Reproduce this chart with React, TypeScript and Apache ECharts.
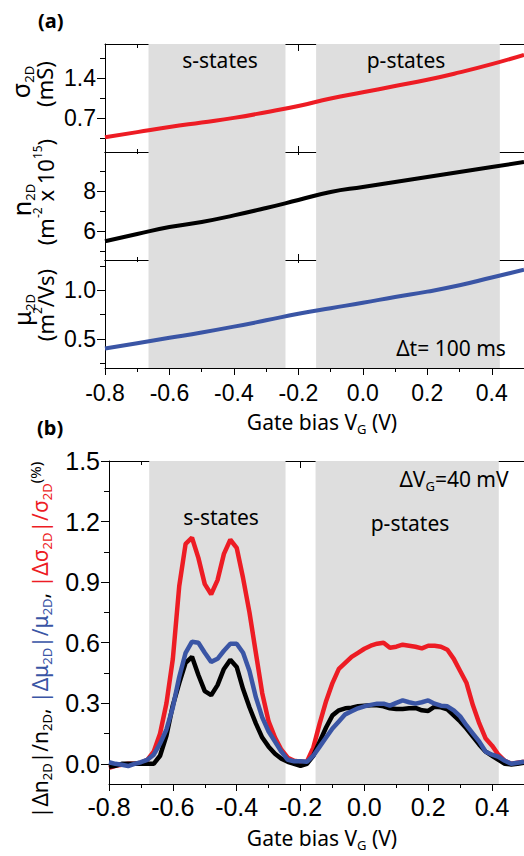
import React, { useEffect, useRef } from 'react';
import * as echarts from 'echarts';

// ---------- data ----------
const X_MAJOR = [-0.8, -0.6, -0.4, -0.2, 0.0, 0.2, 0.4];
const X_MINOR = [-0.7, -0.5, -0.3, -0.1, 0.1, 0.3];

// shaded state regions (gate bias, V)
const S_STATES_A = [-0.665, -0.24];
const P_STATES_A = [-0.145, 0.425];
const S_STATES_B = [-0.674, -0.247];
const P_STATES_B = [-0.153, 0.421];

// panel (a)
const vgA = [-0.8, -0.7, -0.6, -0.5, -0.4, -0.3, -0.2, -0.1, 0.0, 0.1, 0.2, 0.3, 0.4, 0.5];
const sigma2D = [0.36, 0.45, 0.54, 0.62, 0.7, 0.8, 0.91, 1.04, 1.15, 1.26, 1.37, 1.5, 1.645, 1.81];
const n2D = [5.49, 5.85, 6.2, 6.45, 6.78, 7.15, 7.55, 7.95, 8.2, 8.45, 8.7, 8.95, 9.2, 9.45];
const mu2D = [0.4, 0.455, 0.51, 0.565, 0.625, 0.69, 0.757, 0.815, 0.87, 0.93, 0.985, 1.05, 1.13, 1.21];

// panel (b)
const vgB = [
  -0.8, -0.78, -0.76, -0.74, -0.72, -0.7, -0.68, -0.66, -0.64, -0.62, -0.6, -0.58, -0.56, -0.54, -0.52,
  -0.5, -0.48, -0.46, -0.44, -0.42, -0.4, -0.38, -0.36, -0.34, -0.32, -0.3, -0.28, -0.26, -0.24, -0.22,
  -0.2, -0.18, -0.16, -0.14, -0.12, -0.1, -0.08, -0.06, -0.04, -0.02, 0.0, 0.02, 0.04, 0.06, 0.08,
  0.1, 0.12, 0.14, 0.16, 0.18, 0.2, 0.22, 0.24, 0.26, 0.28, 0.3, 0.32, 0.34, 0.36, 0.38,
  0.4, 0.42, 0.44, 0.46, 0.48, 0.5,
];
const dSigma = [
  -0.02, -0.01, -0.005, 0.0, 0.0, 0.005, 0.02, 0.06, 0.15, 0.3, 0.52, 0.88, 1.09, 1.12, 1.02,
  0.89, 0.84, 0.91, 1.04, 1.11, 1.07, 0.92, 0.75, 0.55, 0.35, 0.21, 0.13, 0.07, 0.03, 0.015,
  0.01, 0.01, 0.08, 0.2, 0.31, 0.4, 0.47, 0.5, 0.53, 0.55, 0.57, 0.585, 0.595, 0.6, 0.575,
  0.58, 0.59, 0.585, 0.58, 0.572, 0.585, 0.585, 0.58, 0.565, 0.52, 0.46, 0.4, 0.29, 0.2, 0.125,
  0.09, 0.045, 0.015, 0.0, 0.005, 0.01,
];
const dN = [
  -0.015, -0.01, 0.0, 0.0, 0.0, 0.0, 0.0, 0.0, 0.04, 0.14, 0.29, 0.4, 0.5, 0.53, 0.44,
  0.36, 0.34, 0.39, 0.47, 0.515, 0.48, 0.37, 0.28, 0.2, 0.13, 0.085, 0.05, 0.025, 0.01, 0.0,
  -0.01, 0.0, 0.04, 0.11, 0.18, 0.24, 0.265, 0.275, 0.278, 0.285, 0.288, 0.29, 0.29, 0.285, 0.275,
  0.272, 0.272, 0.275, 0.277, 0.265, 0.262, 0.283, 0.28, 0.27, 0.24, 0.21, 0.175, 0.135, 0.095, 0.06,
  0.04, 0.02, 0.0, -0.003, 0.0, 0.005,
];
const dMu = [
  0.008, 0.0, -0.005, -0.011, 0.0, 0.008, 0.02, 0.045, 0.1, 0.17, 0.28, 0.43, 0.55, 0.605, 0.6,
  0.55, 0.505, 0.52, 0.56, 0.595, 0.595, 0.55, 0.46, 0.33, 0.23, 0.16, 0.11, 0.06, 0.02, 0.013,
  0.013, 0.01, 0.04, 0.085, 0.13, 0.175, 0.21, 0.245, 0.26, 0.275, 0.285, 0.292, 0.298, 0.298, 0.288,
  0.302, 0.314, 0.305, 0.298, 0.305, 0.314, 0.298, 0.288, 0.285, 0.265, 0.235, 0.19, 0.15, 0.11, 0.06,
  0.045, 0.035, 0.015, 0.0, 0.005, 0.01,
];

const Y1_MAJOR = [0.7, 1.4];
const Y1_MINOR = [0.35, 1.05, 1.75];
const Y2_MAJOR = [6, 8];
const Y2_MINOR = [5, 7, 9];
const Y3_MAJOR = [0.5, 1.0];
const Y3_MINOR = [0.25, 0.75, 1.25];
const Y4_MAJOR = [0.0, 0.3, 0.6, 0.9, 1.2, 1.5];
const Y4_MINOR = [0.15, 0.45, 0.75, 1.05, 1.35];

// ---------- styles ----------
const RED = '#ed1c24';
const BLUE = '#3a55a5';
const BLACK = '#000000';
const GRAY = '#dedede';
const FONT_TXT = '"Noto Sans", "Open Sans", sans-serif';
const FONT_NUM = '"Liberation Sans", Arial, sans-serif';

const zip = (xs: number[], ys: number[]) => xs.map((x, i) => [x, ys[i]]);

function xPair(gridIndex: number, position: 'top' | 'bottom', inside: boolean, majorLen: number, minorLen: number, labels: boolean, fontSize: number, margin: number) {
  const common = {
    type: 'value' as const,
    gridIndex,
    position,
    min: -0.8,
    max: 0.5,
    splitLine: { show: false },
  };
  return [
    {
      ...common,
      axisLine: { show: true, onZero: false, lineStyle: { color: '#000', width: 1 } },
      axisTick: { show: true, inside, length: majorLen, customValues: X_MAJOR, lineStyle: { color: '#000', width: 1 } },
      axisLabel: {
        show: labels,
        customValues: X_MAJOR,
        formatter: (v: number) => v.toFixed(1),
        fontSize,
        fontFamily: FONT_NUM,
        color: '#000',
        margin,
      },
    },
    {
      ...common,
      axisLine: { show: false, onZero: false },
      axisTick: { show: true, inside, length: minorLen, customValues: X_MINOR, lineStyle: { color: '#000', width: 1 } },
      axisLabel: { show: false, customValues: X_MINOR },
    },
  ];
}

function yPair(gridIndex: number, min: number, max: number, major: number[], minor: number[], digits: number, fontSize: number) {
  const common = {
    type: 'value' as const,
    gridIndex,
    position: 'left' as const,
    min,
    max,
    splitLine: { show: false },
  };
  return [
    {
      ...common,
      axisLine: { show: true, onZero: false, lineStyle: { color: '#000', width: 1 } },
      axisTick: { show: true, inside: false, length: 8, customValues: major, lineStyle: { color: '#000', width: 1 } },
      axisLabel: {
        show: true,
        customValues: major,
        formatter: (v: number) => v.toFixed(digits),
        fontSize,
        fontFamily: FONT_NUM,
        color: '#000',
        margin: 9,
      },
    },
    {
      ...common,
      axisLine: { show: false, onZero: false },
      axisTick: { show: true, inside: false, length: 5, customValues: minor, lineStyle: { color: '#000', width: 1 } },
      axisLabel: { show: false, customValues: minor },
    },
  ];
}

const bands = (s: number[], p: number[]) => ({
  silent: true,
  itemStyle: { color: GRAY },
  data: [
    [{ xAxis: s[0] }, { xAxis: s[1] }],
    [{ xAxis: p[0] }, { xAxis: p[1] }],
  ],
});

function lineSeries(name: string, data: number[][], color: string, xi: number, yi: number, width: number, smooth: boolean, band: any, z: number) {
  return {
    name,
    type: 'line',
    xAxisIndex: xi,
    yAxisIndex: yi,
    data,
    smooth,
    showSymbol: false,
    symbol: 'none',
    lineStyle: { color, width },
    z,
    ...(band ? { markArea: band } : {}),
  };
}

const main = (size: number, fill = '#000') => ({ fontSize: size, fontFamily: FONT_TXT, lineHeight: Math.round(size * 1.25), verticalAlign: 'middle' as const, fill });
const sub = (size: number, fill = '#000') => ({ fontSize: size, fontFamily: FONT_TXT, lineHeight: size, verticalAlign: 'bottom' as const, fill });
const sup = (size: number, fill = '#000') => ({ fontSize: size, fontFamily: FONT_TXT, lineHeight: size, verticalAlign: 'top' as const, fill });

function txt(x: number, y: number, text: string, rich: any, rotated = false) {
  return {
    type: 'text',
    x,
    y,
    z: 100,
    rotation: rotated ? Math.PI / 2 : 0,
    silent: true,
    style: { text, rich, align: 'center', verticalAlign: 'middle' },
  };
}

export default function App() {
  const ref = useRef<HTMLDivElement>(null);

  useEffect(() => {
    if (!ref.current) return;
    const chart = echarts.init(ref.current, undefined, { renderer: 'svg' });

    const richBase = { m: main(21), s: sub(13), u: sup(12) };
    const richAxis = { m: main(22), s: sub(13), u: sup(12) };

    const xAxis = [
      ...xPair(0, 'top', true, 7, 4, false, 23, 10),
      ...xPair(0, 'bottom', true, 6, 3, false, 23, 10),
      ...xPair(1, 'top', true, 3, 2, false, 23, 10),
      ...xPair(1, 'bottom', true, 6, 3, false, 23, 10),
      ...xPair(2, 'top', true, 3, 2, false, 23, 10),
      ...xPair(2, 'bottom', false, 7, 4, true, 23, 13),
      ...xPair(3, 'top', true, 7, 4, false, 25, 10),
      ...xPair(3, 'bottom', false, 7, 4, true, 25, 10),
    ];
    const yAxis = [
      ...yPair(0, 0.1, 2.0, Y1_MAJOR, Y1_MINOR, 1, 23),
      ...yPair(1, 4.55, 9.95, Y2_MAJOR, Y2_MINOR, 0, 23),
      ...yPair(2, 0.2, 1.31, Y3_MAJOR, Y3_MINOR, 1, 23),
      ...yPair(3, -0.1, 1.5, Y4_MAJOR, Y4_MINOR, 1, 25),
    ];

    const option = {
      animation: false,
      grid: [
        { left: 105, top: 44, width: 420, height: 108 },
        { left: 105, top: 152, width: 420, height: 108 },
        { left: 105, top: 260, width: 420, height: 108 },
        { left: 109, top: 461, width: 417, height: 323 },
      ],
      xAxis,
      yAxis,
      series: [
        lineSeries('sigma', zip(vgA, sigma2D), RED, 2, 0, 4, true, bands(S_STATES_A, P_STATES_A), 3),
        lineSeries('n', zip(vgA, n2D), BLACK, 6, 2, 4, true, bands(S_STATES_A, P_STATES_A), 3),
        lineSeries('mu', zip(vgA, mu2D), BLUE, 10, 4, 4, true, bands(S_STATES_A, P_STATES_A), 3),
        lineSeries('dSigma', zip(vgB, dSigma), RED, 14, 6, 4.5, false, bands(S_STATES_B, P_STATES_B), 3),
        lineSeries('dN', zip(vgB, dN), BLACK, 14, 6, 4.5, false, null, 4),
        lineSeries('dMu', zip(vgB, dMu), BLUE, 14, 6, 4.5, false, null, 5),
      ],
      graphic: [
        { type: 'text', x: 38, y: 20, z: 100, silent: true, style: { text: '(a)', font: 'bold 20px ' + FONT_TXT, fill: '#000', verticalAlign: 'middle' } },
        { type: 'text', x: 37, y: 427, z: 100, silent: true, style: { text: '(b)', font: 'bold 20px ' + FONT_TXT, fill: '#000', verticalAlign: 'middle' } },
        txt(220, 60, '{m|s-states}', richBase),
        txt(406, 60, '{m|p-states}', richBase),
        txt(451, 348, '{m|Δt= 100 ms}', richBase),
        txt(322, 422, '{m|Gate bias V}{s|G}{m| (V)}', richBase),
        txt(221, 517, '{m|s-states}', richBase),
        txt(410, 523, '{m|p-states}', richBase),
        txt(454, 479, '{m|ΔV}{s|G}{m|=40 mV}', richBase),
        txt(322, 838, '{m|Gate bias V}{s|G}{m| (V)}', richBase),
        txt(20, 82, '{m|σ}{s|2D}', { m: main(25), s: sub(13) }, true),
        txt(44, 84, '{m|(mS)}', richAxis, true),
        txt(21, 200, '{m|n}{s|2D}', { m: main(25), s: sub(13) }, true),
        txt(45, 192, '{m|(m}{u|-2}{m| x 10}{u|15}{m|)}', richAxis, true),
        txt(21, 310, '{m|μ}{s|2D}', { m: main(24), s: sub(13) }, true),
        txt(45, 305, '{m|(m}{u|2}{m|/Vs)}', richAxis, true),
        txt(40, 640,
          '{k||Δn}{ks|2D}{k||/n}{ks|2D}{k|, }{b||Δμ}{bs|2D}{b||/μ}{bs|2D}{k|, }{r||Δσ}{rs|2D}{r||/σ}{rs|2D}{kp|(%)}',
          {
            k: main(21, BLACK),
            b: main(21, BLUE),
            r: main(21, RED),
            ks: sub(13, BLACK),
            bs: sub(13, BLUE),
            rs: sub(13, RED),
            kp: sup(15, BLACK),
          }, true),
      ],
    };

    chart.setOption(option as any);
    return () => chart.dispose();
  }, []);

  return <div ref={ref} style={{ position: 'absolute', left: 0, top: 0, width: 524, height: 856 }} />;
}
